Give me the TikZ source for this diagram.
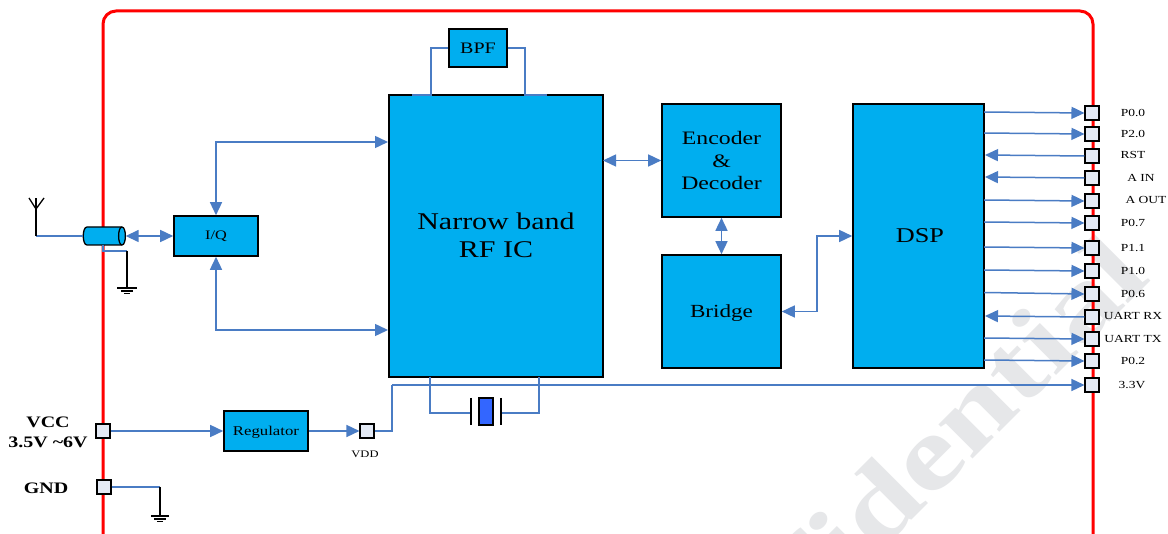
\documentclass[tikz,border=0pt]{standalone}
\usepackage{fontspec}
\usepackage{graphicx}
\setmainfont{Liberation Serif}
\usetikzlibrary{arrows.meta}
\newcommand{\wtxt}[2]{\fontsize{#1}{#1}\selectfont\scalebox{1.25}[1]{#2}}
\definecolor{boxblue}{HTML}{00AEEF}
\definecolor{wireblue}{HTML}{4A7CC4}
\definecolor{padfill}{HTML}{E4EAF5}
\definecolor{wmark}{HTML}{E6E7E9}
\definecolor{xtal}{HTML}{3366FF}
\tikzset{
  block/.style={draw=black,line width=1.6pt,fill=boxblue,inner sep=0pt,align=center,text=black},
  pad/.style={draw=black,line width=1.6pt,fill=padfill,minimum size=13.5pt,inner sep=0pt},
  wire/.style={draw=wireblue,line width=1.5pt},
  oneway/.style={wire,-{Triangle[length=13pt,width=12pt]}},
  twoway/.style={wire,{Triangle[length=13pt,width=12pt]}-{Triangle[length=13pt,width=12pt]}},
  gwire/.style={draw=black,line width=1.3pt},
  pinlabel/.style={inner sep=0pt,text=black},
}
\begin{document}
\begin{tikzpicture}[x=1pt,y=-1pt]
\clip (0,0) rectangle (1168,534);
\fill[white] (0,0) rectangle (1168,534);
% watermark
\node[rotate=45,text=wmark,inner sep=0pt,font=\bfseries,anchor=base east] (wm) at (1153,279) {\fontsize{105}{105}\selectfont\scalebox{1.26}[1]{Confidential}};
% board outline
\draw[red,line width=3pt,rounded corners=13pt] (103,542) -- (103,11) -- (1093,11) -- (1093,542);
% blocks
\node[block,minimum width=58pt,minimum height=38pt] (bpf) at (478,48) {\wtxt{16}{BPF}};
\node[block,minimum width=214pt,minimum height=282pt] (rf) at (496,236) {};
\node[inner sep=0pt] (rf1) at (496,221) {\wtxt{24}{Narrow band}};
\node[inner sep=0pt] (rf2) at (496,250) {\wtxt{24}{RF IC}};
\node[block,minimum width=119pt,minimum height=113pt] (enc) at (721.5,160.5) {};
\node[inner sep=0pt] (enc1) at (721.5,138) {\wtxt{19}{Encoder}};
\node[inner sep=0pt] (enc2) at (721.5,161) {\wtxt{19}{\&}};
\node[inner sep=0pt] (enc3) at (721.5,183) {\wtxt{19}{Decoder}};
\node[block,minimum width=119pt,minimum height=113pt] (bridge) at (721.5,311.5) {};
\node[inner sep=0pt] (bridgelabel) at (721.5,313) {\wtxt{18.5}{Bridge}};
\node[block,minimum width=131pt,minimum height=264pt] (dsp) at (918.5,236) {};
\node[inner sep=0pt] (dsplabel) at (920,236) {\wtxt{21}{DSP}};
\node[block,minimum width=84pt,minimum height=40pt] (iq) at (216,236) {\wtxt{13}{I/Q}};
\node[block,minimum width=84pt,minimum height=40pt] (reg) at (266,431) {};
\node[inner sep=0pt] (reglabel) at (266,432) {\wtxt{13.4}{Regulator}};
% cable
\node[minimum width=42pt,minimum height=18pt,inner sep=0pt] (coax) at (104.5,236) {};
\filldraw[draw=black,fill=boxblue,line width=1.3pt] (87,227) .. controls (82,227) and (82,245) .. (87,245) -- (122,245) .. controls (126.5,245) and (126.5,227) .. (122,227) -- cycle;
\draw[black,line width=1.3pt] (122,227) .. controls (117.5,227) and (117.5,245) .. (122,245);
% pads
\foreach \n/\y in {a/113,b/134,c/156,d/178,e/201,f/223,g/248,h/271,i/294,j/317,k/339,l/361,m/385}
  \node[pad] (p\n) at (1092,\y) {};
\node[pad] (vcc) at (103,431) {};
\node[pad] (gnd) at (104,487) {};
\node[pad] (vdd) at (367,431) {};
% pin labels
\foreach \n/\x/\y/\t in {la/1133/112.5/P0.0,lb/1133/134/P2.0,lc/1133/155/RST,ld/1141/178/A IN,le/1146/200/A OUT,lf/1133/223/P0.7,lg/1133/248/P1.1,lh/1133/271/P1.0,li/1133/293.5/P0.6,lj/1133/316/UART RX,lk/1133/339/UART TX,ll/1133/361/P0.2,lm/1132/385/3.3V}
  \node[pinlabel] (\n) at (\x,\y) {\wtxt{10.8}{\t}};
\node[pinlabel] (lvdd) at (365,454) {\wtxt{10}{VDD}};
\node[pinlabel] (lvcc) at (48,422) {\wtxt{16}{\textbf{VCC}}};
\node[pinlabel] (lvcc2) at (48,442) {\wtxt{16}{\textbf{3.5V \textasciitilde 6V}}};
\node[pinlabel] (lgnd) at (46,488) {\wtxt{16}{\textbf{GND}}};
% DSP side anchors
\foreach \n/\y in {a/112,b/133,e/200,f/222,g/247,h/270,i/292.5,k/338,l/360}
  \coordinate (s\n) at (984,\y);
\foreach \n/\y in {c/155,d/177,j/316}
  \coordinate (s\n) at (985,\y);
\foreach \n in {a,b,e,f,g,h,i,k,l}
  \draw[oneway] (s\n) -- (p\n.west);
\foreach \n in {c,d,j}
  \draw[oneway] (p\n.west) -- (s\n);
% inner connectors
\coordinate (rft) at (388,142);
\coordinate (rfb) at (388,330);
\draw[twoway] (iq.north) |- (rft);
\draw[twoway] (iq.south) |- (rfb);
\draw[twoway] (coax.east) -- (iq.west);
\coordinate (rfe) at (603,160.5);
\draw[twoway] (rfe) -- (enc.west);
\draw[twoway] (enc.south) -- (bridge.north);
\coordinate (bd) at (817,311.5);
\draw[twoway] (bridge.east) -- (bd) |- (dsp.west);
\draw[oneway] (vcc.east) -- (reg.west);
\draw[oneway] (reg.east) -- (vdd.west);
\coordinate (v1) at (392,431);
\coordinate (v2) at (392,385);
\draw[wire] (vdd.east) -- (v1) -- (v2);
\draw[oneway] (v2) -- (pm.west);
% BPF loop
\coordinate (b0) at (412,95);
\coordinate (b1) at (431,95);
\coordinate (b2) at (525,95);
\coordinate (b3) at (547,95);
\draw[wire] (b0) -- (b1) |- (bpf.west);
\draw[wire] (b3) -- (b2) |- (bpf.east);
% crystal
\node[draw=black,line width=1.4pt,fill=xtal,minimum width=14pt,minimum height=27pt,inner sep=0pt] (xt) at (486,411.5) {};
\coordinate (xl) at (471,413);
\coordinate (xr) at (501,413);
\coordinate (x1) at (430,377);
\coordinate (x2) at (539,377);
\draw[wire] (x1) |- (xl);
\draw[wire] (x2) |- (xr);
\draw[black,line width=1.5pt] (471,398) -- (471,425);
\draw[black,line width=1.5pt] (501,398) -- (501,425);
% antenna
\coordinate (ant) at (36,236);
\draw[wire] (coax.west) -- (ant);
\draw[gwire] (ant) -- (36,198);
\draw[gwire] (29,198) -- (36,209) -- (44,198);
% coax ground
\coordinate (cg) at (127,251);
\draw[wire] (103,245) -- (103,251) -- (cg);
\draw[gwire] (cg) -- (127,288);
\draw[gwire] (117,288) -- (137,288);
\draw[gwire] (121,291) -- (133,291);
\draw[gwire] (124,293.5) -- (130,293.5);
% GND
\coordinate (gg) at (160,487);
\draw[wire] (gnd.east) -- (gg);
\draw[gwire] (gg) -- (160,516);
\draw[gwire] (151,516) -- (169,516);
\draw[gwire] (154,519) -- (166,519);
\draw[gwire] (157,521.5) -- (163,521.5);
\end{tikzpicture}
\end{document}
